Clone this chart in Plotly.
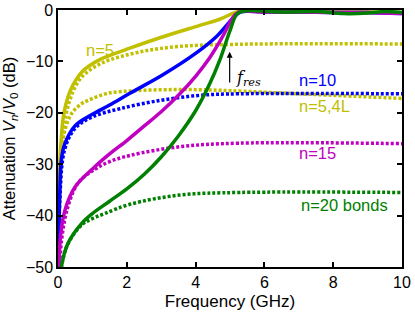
import plotly.graph_objects as go

# ---- data (frequency in GHz, attenuation in dB) ----
f_n5 = [0.0, 0.02, 0.05, 0.1, 0.15, 0.23, 0.35, 0.52, 0.7, 0.9, 1.2, 1.6, 1.97, 2.96, 4.12, 4.7, 5.1, 5.3, 6.0, 7.0, 8.0, 9.0, 10.0]
a_n5 = [-60, -40, -30, -24.5, -21, -18.3, -15.8, -13.6, -12.0, -10.9, -9.7, -8.6, -7.7, -5.4, -3.0, -1.8, -0.6, -0.2, -0.3, -0.3, -0.4, -0.4, -0.5]

f_n5d = [0.0, 0.05, 0.15, 0.3, 0.6, 0.9, 1.19, 1.5, 1.97, 2.5, 2.96, 3.5, 4.12, 5.0, 6.0, 10.0]
a_n5d = [-60, -38, -25, -18.5, -13.8, -11.8, -10.6, -9.7, -8.8, -8.0, -7.5, -7.1, -6.85, -6.7, -6.6, -6.6]

f_n54L = [0.0, 0.05, 0.1, 0.2, 0.4, 0.69, 0.87, 1.45, 2.24, 3.15, 4.1, 5.0, 7.0, 10.0]
a_n54L = [-60, -34, -27.3, -23.4, -20.1, -18.2, -17.6, -16.2, -15.7, -15.5, -15.5, -15.7, -16.3, -17.2]

f_n10 = [0.0, 0.05, 0.1, 0.2, 0.5, 1.0, 1.5, 2.09, 3.05, 4.03, 4.6, 5.1, 5.3, 6.0, 7.0, 8.0, 9.0, 10.0]
a_n10 = [-60, -36, -29, -26, -22.5, -20.3, -18.5, -16.2, -12.6, -8.3, -5.2, -1.5, -0.4, -0.4, -0.4, -0.5, -0.5, -0.7]

f_n10d = [0.0, 0.05, 0.2, 0.5, 1.0, 1.8, 2.96, 4.12, 5.28, 10.0]
a_n10d = [-60, -37, -27, -23.0, -20.8, -19.2, -17.6, -16.6, -16.3, -16.3]

f_n15 = [0.0, 0.06, 0.2, 0.5, 1.07, 1.5, 2.0, 2.5, 3.0, 3.5, 4.0, 4.41, 4.8, 5.05, 5.25, 6.0, 7.0, 8.0, 9.0, 10.0]
a_n15 = [-60, -45, -39, -34.4, -30.5, -28.0, -25.4, -22.6, -19.8, -16.6, -12.9, -9.3, -5.0, -1.8, -0.4, -0.4, -0.4, -0.5, -0.5, -0.7]

f_n15d = [0.0, 0.1, 0.3, 0.6, 1.07, 1.5, 2.09, 3.54, 5.28, 10.0]
a_n15d = [-60, -45, -38, -33.5, -31.0, -29.5, -28.3, -26.6, -25.9, -26.0]

f_n20 = [0.0, 0.1, 0.29, 0.69, 1.0, 1.5, 2.0, 2.5, 3.0, 3.5, 4.0, 4.4, 4.7, 5.0, 5.2, 5.4, 6.5, 7.5, 8.3, 9.0, 9.5, 10.0]
a_n20 = [-58, -49.9, -45.4, -41.5, -39.6, -37.2, -34.8, -32.0, -28.6, -24.5, -19.6, -14.5, -9.8, -4.0, -0.8, -0.2, -0.4, -0.3, -0.7, -0.6, -0.3, -0.5]

f_n20d = [0.0, 0.1, 0.29, 0.69, 1.0, 1.36, 2.09, 3.54, 5.28, 10.0]
a_n20d = [-58, -50, -45.5, -41.8, -40.6, -39.6, -37.8, -36.0, -35.5, -35.5]

labels = ["n=5", "n=10", "n=5,4L", "n=15", "n=20 bonds"]
label_f = [1.22, 7.55, 7.75, 7.55, 8.32]
label_a = [-7.7, -13.6, -18.6, -27.9, -37.9]

YEL = "#c0c000"
BLU = "#0000ff"
MAG = "#c000c0"
GRN = "#008000"
label_colors = [YEL, BLU, YEL, MAG, GRN]

DOT = "3px,2px"
LW = 3.5
FONT = "Liberation Sans, Arial, sans-serif"

fig = go.Figure()
series = [
    (f_n5d, a_n5d, YEL, DOT),
    (f_n54L, a_n54L, YEL, DOT),
    (f_n10d, a_n10d, BLU, DOT),
    (f_n15d, a_n15d, MAG, DOT),
    (f_n20d, a_n20d, GRN, DOT),
    (f_n5, a_n5, YEL, "solid"),
    (f_n10, a_n10, BLU, "solid"),
    (f_n15, a_n15, MAG, "solid"),
    (f_n20, a_n20, GRN, "solid"),
]
for fx, ay, c, d in series:
    fig.add_trace(go.Scatter(x=fx, y=ay, mode="lines",
                             line=dict(color=c, width=LW, dash=d, shape="spline", smoothing=1.0),
                             showlegend=False, hoverinfo="skip"))

for t, x, y, c in zip(labels, label_f, label_a, label_colors):
    fig.add_annotation(x=x, y=y, text=t, showarrow=False,
                       font=dict(family=FONT, size=16.5, color=c))

# f_res arrow
fig.add_annotation(x=4.99, y=-8.1, ax=4.99, ay=-14.4, axref="x", ayref="y",
                   text="", showarrow=True, arrowhead=2, arrowsize=1, arrowwidth=1.2,
                   arrowcolor="black")
fig.add_annotation(x=5.12, y=-13.3, xanchor="left", text="<i>f<sub>res</sub></i>",
                   showarrow=False, font=dict(family="DejaVu Serif, serif", size=16, color="black"))

axis_common = dict(showline=True, linecolor="black", linewidth=1.5, mirror="ticks",
                   ticks="inside", ticklen=5, tickwidth=1.5, tickcolor="black",
                   showgrid=False, zeroline=False, automargin=False,
                   tickfont=dict(family=FONT, size=16, color="black"))

fig.update_layout(
    width=415, height=312,
    margin=dict(l=58, r=13, t=10, b=45),
    paper_bgcolor="white", plot_bgcolor="white",
    xaxis=dict(range=[0, 10], tickvals=[0, 2, 4, 6, 8, 10],
               title=dict(text="Frequency (GHz)", standoff=5,
                          font=dict(family=FONT, size=17, color="black")),
               **axis_common),
    yaxis=dict(range=[-50, 0], tickvals=[0, -10, -20, -30, -40, -50],
               title=dict(text="Attenuation <i>V<sub>n</sub></i>/<i>V</i><sub>0</sub> (dB)", standoff=8,
                          font=dict(family=FONT, size=16.5, color="black")),
               **axis_common),
)

fig.write_html("out.html", config={"displayModeBar": False},
               post_script="document.body.style.margin='0';document.body.style.overflow='hidden';")
